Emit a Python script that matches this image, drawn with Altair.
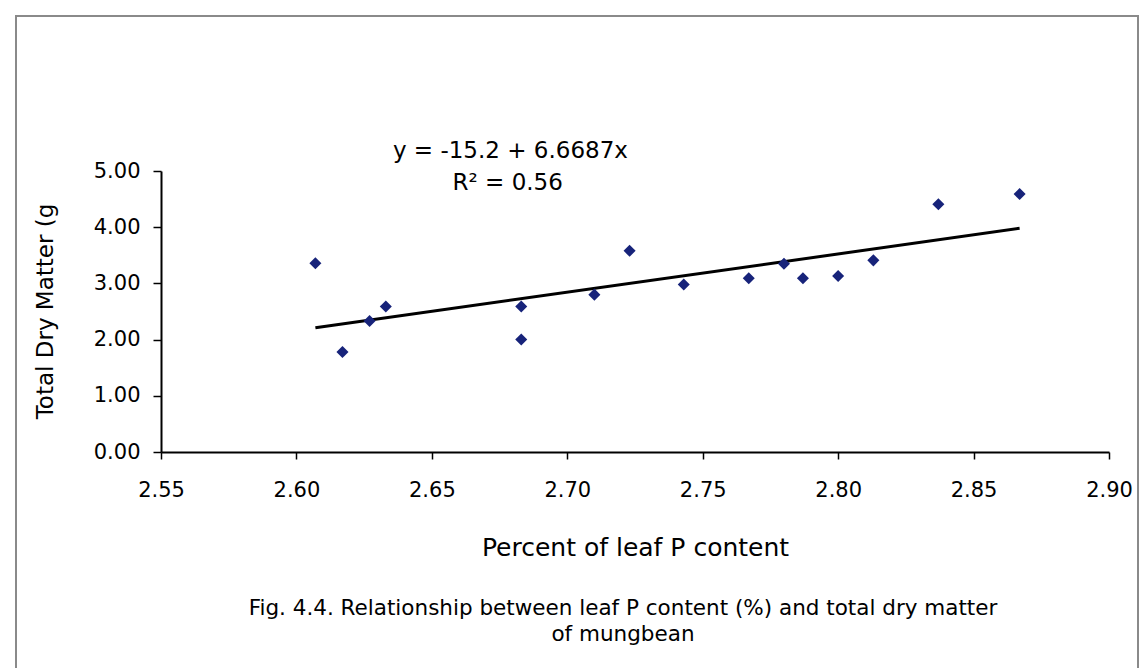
import altair as alt
import pandas as pd

# ---- data ----
leaf_p = [2.607, 2.617, 2.627, 2.633, 2.683, 2.683, 2.710, 2.723,
          2.743, 2.767, 2.780, 2.787, 2.800, 2.813, 2.837, 2.867]
dry_matter = [3.36, 1.78, 2.33, 2.59, 2.59, 2.00, 2.80, 3.58,
              2.98, 3.09, 3.35, 3.09, 3.13, 3.41, 4.41, 4.59]
fit_x = [2.607, 2.867]
fit_y = [2.21, 3.98]
x_ticks = [2.55, 2.60, 2.65, 2.70, 2.75, 2.80, 2.85, 2.90]
y_ticks = [0, 1, 2, 3, 4, 5]
equation_text = ["y = -15.2 + 6.6687x", "R² = 0.56"]
equation_x = [2.679, 2.678]
equation_y = [5.36, 4.78]
caption_lines = ["Fig. 4.4. Relationship between leaf P content (%) and total dry matter",
                 "of mungbean"]
x_title = "Percent of leaf P content"
y_title = "Total Dry Matter (g"

FONT = "DejaVu Sans"

pts = pd.DataFrame({"p": leaf_p, "dm": dry_matter})
fit = pd.DataFrame({"p": fit_x, "dm": fit_y})
eq = pd.DataFrame({"p": equation_x, "dm": equation_y, "t": equation_text})

xenc = alt.X("p:Q",
             scale=alt.Scale(domain=[2.55, 2.90], nice=False, zero=False),
             axis=alt.Axis(values=x_ticks, format=".2f", title=x_title,
                           labelFont=FONT, labelFontSize=21, labelColor="black",
                           labelPadding=20, labelFlush=False, labelOverlap=False,
                           tickSize=7, tickColor="black", tickWidth=1.5,
                           domainColor="black", domainWidth=2, grid=False,
                           titleFont=FONT, titleFontSize=25, titleFontWeight="normal",
                           titleColor="black", titleY=103, titleBaseline="alphabetic"))
yenc = alt.Y("dm:Q",
             scale=alt.Scale(domain=[0, 5], nice=False, zero=True),
             axis=alt.Axis(values=y_ticks, format=".2f", title=y_title,
                           labelFont=FONT, labelFontSize=21, labelColor="black",
                           labelPadding=13, labelFlush=False, labelOverlap=False,
                           tickSize=8, tickColor="black", tickWidth=1.5,
                           domainColor="black", domainWidth=2, grid=False,
                           titleFont=FONT, titleFontSize=23, titleFontWeight="normal",
                           titleColor="black", titleAngle=270, titleX=-116, titleY=140,
                           titleBaseline="middle", titleAlign="center"))

frame = alt.Chart(pd.DataFrame({"k": [0]})).mark_rect(
    filled=False, stroke="#8a8a8a", strokeWidth=2
).encode(x=alt.value(-145), x2=alt.value(977), y=alt.value(-155), y2=alt.value(530))

line = alt.Chart(fit).mark_line(color="black", strokeWidth=3).encode(x=xenc, y=yenc)

points = alt.Chart(pts).mark_point(
    shape="diamond", filled=True, size=145, color="#17237a", opacity=1
).encode(x=xenc, y=yenc)

eq_text = alt.Chart(eq).mark_text(
    font=FONT, fontSize=23, color="black", align="center", baseline="middle"
).encode(x=xenc, y=yenc, text="t:N")

cap1 = alt.Chart(pd.DataFrame({"t": [caption_lines[0]]})).mark_text(
    font=FONT, fontSize=21.5, color="black", align="center", baseline="alphabetic"
).encode(x=alt.value(462), y=alt.value(444), text="t:N")
cap2 = alt.Chart(pd.DataFrame({"t": [caption_lines[1]]})).mark_text(
    font=FONT, fontSize=21.5, color="black", align="center", baseline="alphabetic"
).encode(x=alt.value(462), y=alt.value(470), text="t:N")

chart = alt.layer(frame, line, points, eq_text, cap1, cap2).properties(
    width=948, height=281,
    autosize=alt.AutoSizeParams(type="none"),
    padding={"left": 161, "top": 171, "right": 32, "bottom": 216},
    background="white",
).configure_view(stroke=None)

chart.save("out.html", embed_options={"renderer": "svg", "actions": False})
